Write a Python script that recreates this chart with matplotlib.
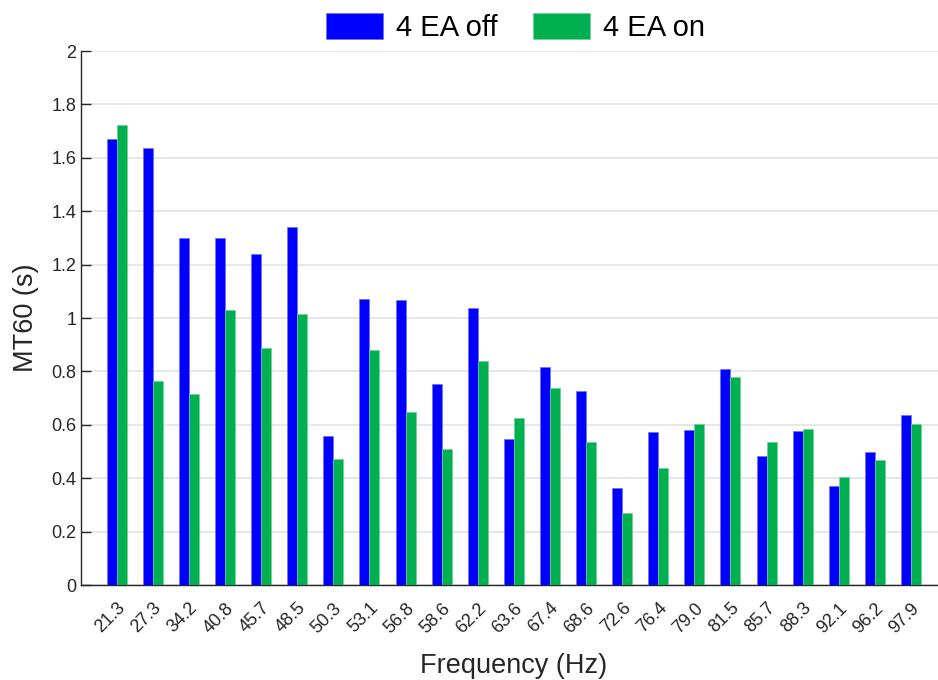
import numpy as np
import matplotlib.pyplot as plt
from matplotlib.transforms import ScaledTranslation

plt.rcParams['font.family'] = ['Liberation Sans', 'DejaVu Sans']

# Frequenze dei modi e tempi MT60 misurati
freqs = ['21.3', '27.3', '34.2', '40.8', '45.7', '48.5', '50.3', '53.1', '56.8',
         '58.6', '62.2', '63.6', '67.4', '68.6', '72.6', '76.4', '79.0', '81.5',
         '85.7', '88.3', '92.1', '96.2', '97.9']
ea_off = [1.671, 1.637, 1.300, 1.300, 1.240, 1.341, 0.559, 1.072, 1.066,
          0.753, 1.039, 0.548, 0.816, 0.726, 0.365, 0.574, 0.579, 0.809,
          0.484, 0.576, 0.369, 0.500, 0.635]
ea_on = [1.723, 0.764, 0.716, 1.031, 0.889, 1.015, 0.471, 0.879, 0.649,
         0.510, 0.840, 0.626, 0.739, 0.536, 0.270, 0.437, 0.604, 0.780,
         0.536, 0.585, 0.406, 0.469, 0.603]

x = np.arange(1, len(freqs) + 1)
w = 0.277

fig = plt.figure(figsize=(9.38, 6.80), dpi=100)
ax = fig.add_axes([0.086, 0.1397, 0.9236, 0.7853])

ax.bar(x - w / 2, ea_off, w, color='#0000FF', edgecolor='#6f6fff', linewidth=0.5,
       label='4 EA off', zorder=3)
ax.bar(x + w / 2, ea_on, w, color='#00B050', edgecolor='#6fd09a', linewidth=0.5,
       label='4 EA on', zorder=3)

ax.set_xlim(0, 24)
ax.set_ylim(0, 2)
ax.set_yticks(np.arange(0, 2.01, 0.2))
ax.set_yticklabels(['0', '0.2', '0.4', '0.6', '0.8', '1', '1.2', '1.4', '1.6', '1.8', '2'])
ax.set_xticks(x)
ax.set_xticklabels(freqs, rotation=45, ha='right', va='top', rotation_mode='anchor')
# sposta le etichette ruotate un po' a destra
shift = ScaledTranslation(5 / 100, 0, fig.dpi_scale_trans)
for lab in ax.get_xticklabels():
    lab.set_transform(lab.get_transform() + shift)

ax.grid(axis='y', color='#e3e3e3', linewidth=1.2, zorder=0)
ax.set_axisbelow(True)
for s in ['top', 'right']:
    ax.spines[s].set_visible(False)
for s in ['left', 'bottom']:
    ax.spines[s].set_color('#262626')
    ax.spines[s].set_linewidth(1.0)

ax.tick_params(axis='y', direction='in', length=7.2, width=1, color='#262626',
               labelsize=13, labelcolor='#262626', pad=3)
ax.tick_params(axis='x', direction='in', length=3, width=1, color='#262626',
               labelsize=13, labelcolor='#262626', pad=10.5)

ax.set_xlabel('Frequency (Hz)', fontsize=19.5, color='#262626', labelpad=12)
ax.set_ylabel('MT60 (s)', fontsize=19.5, color='#262626', labelpad=9)

ax.legend(loc='lower center', bbox_to_anchor=(0.502, 1.0), ncol=2, frameon=False,
          fontsize=21, handlelength=1.95, handleheight=1.0, columnspacing=1.2,
          handletextpad=0.45, borderaxespad=0.0, borderpad=0.3)

fig.savefig('out.png', dpi=100)
